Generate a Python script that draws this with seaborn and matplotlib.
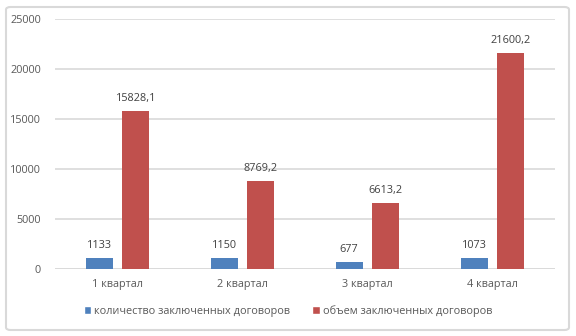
import matplotlib
matplotlib.use("Agg")
import matplotlib.pyplot as plt
import seaborn as sns
import pandas as pd
from matplotlib.patches import FancyBboxPatch, Patch

categories = ["1 квартал", "2 квартал", "3 квартал", "4 квартал"]
series_names = ["количество заключенных договоров", "объем заключенных договоров"]
count_values = [1133, 1150, 677, 1073]
volume_values = [15828.1, 8769.2, 6613.2, 21600.2]
count_labels = ["1133", "1150", "677", "1073"]
volume_labels = ["15828,1", "8769,2", "6613,2", "21600,2"]
colors = ["#4F81BD", "#C0504D"]

df = pd.DataFrame({
    "cat": categories * 2,
    "series": [series_names[0]] * 4 + [series_names[1]] * 4,
    "value": count_values + volume_values,
})

sns.set_theme(style="white")
plt.rcParams['font.family'] = ['Open Sans', 'DejaVu Sans']

fig = plt.figure(figsize=(5.76, 3.36), dpi=100)
ax = fig.add_axes([55/576, 1-269/336, 500/576, 250/336])

sns.barplot(data=df, x="cat", y="value", hue="series", palette=colors,
            width=0.584, gap=0.25, ax=ax, legend=False, saturation=1,
            linewidth=0, edgecolor="none")

ax.set_ylim(0, 25000)
ax.set_yticks(range(0, 25001, 5000))
ax.yaxis.grid(True, color="#D9D9D9", linewidth=1.2)
ax.set_axisbelow(True)
for s in ax.spines.values():
    s.set_visible(False)
ax.axhline(0, color="#D9D9D9", linewidth=1.2, zorder=0)
ax.set_xlabel("")
ax.set_ylabel("")
ax.tick_params(axis="both", length=0, labelsize=7.8, colors="#595959")
ax.tick_params(axis="y", pad=10)
ax.tick_params(axis="x", pad=7)

labels_all = [count_labels, volume_labels]
for cont, labs in zip(ax.containers, labels_all):
    ax.bar_label(cont, labels=labs, padding=5, fontsize=7.8, color="#404040")

handles = [Patch(facecolor=c, label=n) for c, n in zip(colors, series_names)]
fig.legend(handles=handles, loc="center", bbox_to_anchor=(0.5, 1-311/336),
           ncol=2, frameon=False, fontsize=7.8, handlelength=0.7, handleheight=0.7,
           handletextpad=0.3, columnspacing=2.0, labelcolor="#595959")

border = FancyBboxPatch((6/576, 6/336), 563/576, 323/336,
                        boxstyle="round,pad=0,rounding_size=0.008",
                        transform=fig.transFigure, fill=False,
                        edgecolor="#D9D9D9", linewidth=1.5)
fig.patches.append(border)

fig.savefig("out.png", dpi=100)
